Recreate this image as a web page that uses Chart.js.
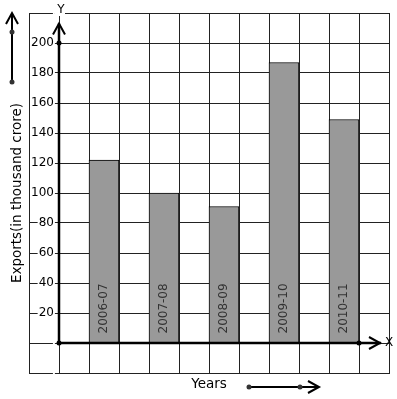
<!DOCTYPE html>
<html>
<head>
<meta charset="utf-8">
<script src="https://cdn.jsdelivr.net/npm/chart.js@4.4.1/dist/chart.umd.min.js"></script>
<style>
  html, body { margin: 0; padding: 0; background: #fff; }
  canvas { display: block; }
</style>
</head>
<body>
<canvas id="exports-chart" width="397" height="399"></canvas>
<script>
const yearLabels = ['2006-07', '2007-08', '2008-09', '2009-10', '2010-11'];
const exportValues = [122, 100, 91, 187, 149];
const yTickLabels = [20, 40, 60, 80, 100, 120, 140, 160, 180, 200];

const FONT = 'DejaVu Sans';
const GRID_COLOR = '#222';

// every year sits in its own column with an empty column between years
const slotLabels = ['', ''];
const slotValues = [null, null];
yearLabels.forEach((year, i) => {
  slotLabels.push(year, '');
  slotValues.push(exportValues[i], null);
});

function drawChevron(ctx, x, y, angle) {
  ctx.save();
  ctx.translate(x, y);
  ctx.rotate(angle);
  ctx.beginPath();
  ctx.moveTo(-11, -6);
  ctx.lineTo(0, 0);
  ctx.lineTo(-11, 6);
  ctx.stroke();
  ctx.restore();
}

function drawDot(ctx, x, y) {
  ctx.beginPath();
  ctx.arc(x, y, 2.5, 0, Math.PI * 2);
  ctx.fill();
}

const axesPlugin = {
  id: 'axesPlugin',
  afterDatasetsDraw(chart) {
    const {ctx, chartArea, scales: {x, y}} = chart;
    const originX = (x.getPixelForValue(0) + x.getPixelForValue(1)) / 2;
    const originY = y.getPixelForValue(0);
    const colWidth = x.getPixelForValue(1) - x.getPixelForValue(0);

    ctx.save();
    ctx.strokeStyle = '#000';
    ctx.fillStyle = '#000';
    ctx.lineWidth = 2.5;

    // Y axis
    const yTip = y.getPixelForValue(213);
    ctx.beginPath();
    ctx.moveTo(originX, originY);
    ctx.lineTo(originX, yTip);
    ctx.stroke();
    ctx.lineWidth = 2;
    drawChevron(ctx, originX, yTip, -Math.PI / 2);

    // X axis
    const xTip = chartArea.right - 9;
    ctx.lineWidth = 2.5;
    ctx.beginPath();
    ctx.moveTo(originX, originY);
    ctx.lineTo(xTip + 1, originY);
    ctx.stroke();
    ctx.lineWidth = 2;
    drawChevron(ctx, xTip, originY, 0);

    drawDot(ctx, originX, originY);
    drawDot(ctx, originX, y.getPixelForValue(200));
    drawDot(ctx, originX + colWidth * 10, originY);

    ctx.font = `12px "${FONT}"`;
    ctx.textAlign = 'center';
    ctx.textBaseline = 'middle';
    ctx.fillStyle = '#fff';
    ctx.fillRect(originX - 4, chartArea.top - 3, 10, 6);
    ctx.fillStyle = '#000';
    ctx.fillText('Y', originX + 2, chartArea.top - 3);
    ctx.fillText('X', chartArea.right, originY);

    // year names inside the bars
    ctx.fillStyle = '#333';
    ctx.textAlign = 'left';
    chart.getDatasetMeta(0).data.forEach((bar, i) => {
      if (slotValues[i] === null) {
        return;
      }
      ctx.save();
      ctx.translate(bar.x, bar.base - 9);
      ctx.rotate(-Math.PI / 2);
      ctx.fillText(slotLabels[i], 0, 0);
      ctx.restore();
    });

    // direction arrows next to the axis titles
    ctx.lineWidth = 2;
    const sideX = chartArea.left - 17;
    ctx.beginPath();
    ctx.moveTo(sideX, chartArea.top + 69);
    ctx.lineTo(sideX, chartArea.top);
    ctx.stroke();
    drawChevron(ctx, sideX, chartArea.top, -Math.PI / 2);
    drawDot(ctx, sideX, chartArea.top + 19);
    drawDot(ctx, sideX, chartArea.top + 69);

    const bottomY = chartArea.bottom + 14;
    const startX = x.getPixelForValue(7) - 5;
    ctx.beginPath();
    ctx.moveTo(startX, bottomY);
    ctx.lineTo(startX + 70, bottomY);
    ctx.stroke();
    drawChevron(ctx, startX + 70, bottomY, 0);
    drawDot(ctx, startX, bottomY);
    drawDot(ctx, startX + 51, bottomY);
    ctx.restore();
  },
};

Chart.defaults.font.family = FONT;
Chart.defaults.font.size = 12;
Chart.defaults.color = '#000';

const exportsChart = new Chart(
  document.getElementById('exports-chart'),
  {
    type: 'bar',
    data: {
      labels: slotLabels,
      datasets: [{
        label: 'Exports',
        data: slotValues,
        backgroundColor: '#999999',
        borderColor: '#000',
        borderWidth: 1,
        barPercentage: 1,
        categoryPercentage: 1,
      }],
    },
    options: {
      responsive: false,
      animation: false,
      layout: {
        padding: { top: 13, right: 8, left: 0, bottom: 0 },
      },
      plugins: {
        legend: { display: false },
        tooltip: { enabled: false },
      },
      scales: {
        x: {
          grid: {
            offset: true,
            color: GRID_COLOR,
            lineWidth: 1,
            drawTicks: false,
          },
          border: { color: GRID_COLOR },
          ticks: { display: false },
          title: {
            display: true,
            text: 'Years',
            color: '#000',
            font: { size: 13.5 },
            padding: { top: 4, bottom: 6 },
          },
          afterFit(scale) {
            scale.height = 26;
          },
        },
        y: {
          min: -20,
          max: 220,
          grid: {
            color: GRID_COLOR,
            lineWidth: 1,
            drawTicks: false,
          },
          border: { color: GRID_COLOR },
          ticks: {
            stepSize: 20,
            mirror: true,
            crossAlign: 'far',
            padding: 2,
            showLabelBackdrop: true,
            backdropColor: '#fff',
            backdropPadding: { x: 1, y: 0 },
            callback: (value) => (yTickLabels.includes(value) ? String(value) : ''),
          },
          title: {
            display: true,
            text: 'Exports(in thousand crore)',
            color: '#000',
            font: { size: 13.5 },
            padding: { top: 9, bottom: 4 },
          },
          afterFit(scale) {
            scale.width = 29;
          },
        },
      },
    },
    plugins: [axesPlugin],
  },
);
</script>
</body>
</html>
